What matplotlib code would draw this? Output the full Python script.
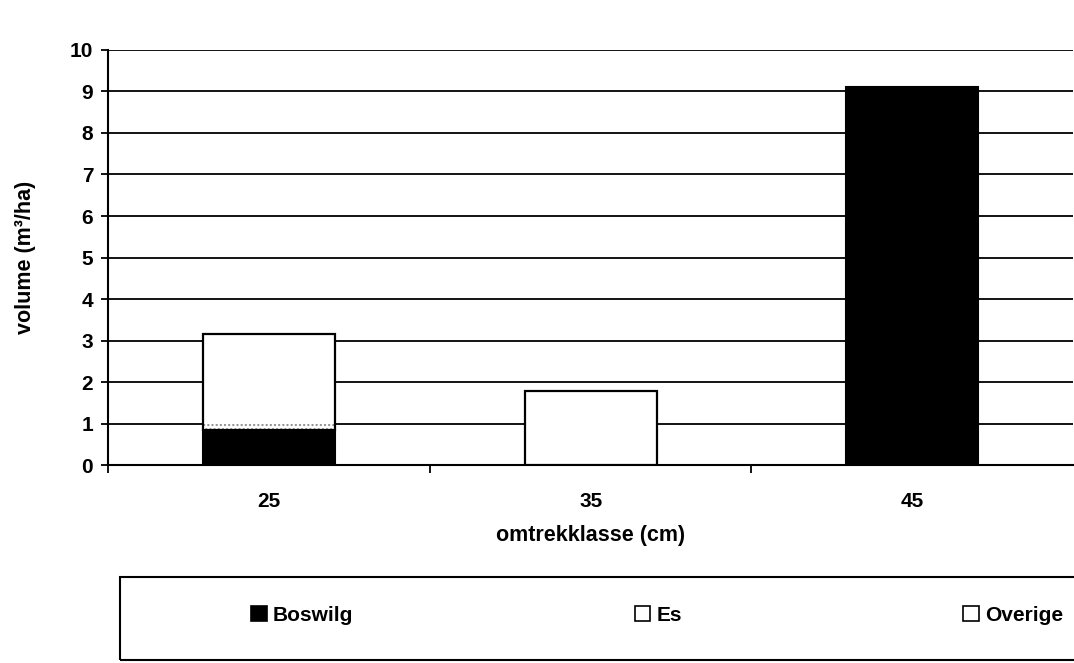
import numpy as np
import matplotlib.pyplot as plt
from matplotlib.patches import Rectangle, Patch

plt.rcParams['font.family'] = ['Liberation Sans', 'DejaVu Sans']
plt.rcParams['font.weight'] = 'bold'
plt.rcParams['hatch.linewidth'] = 1.0

# Data
# ----
klassen = ['25', '35', '45']
boswilg = [0.85, 0.0, 9.1]
es = [0.15, 1.8, 0.0]
overige = [2.15, 0.0, 0.0]

# Figure setup
# ------------
fig = plt.figure(figsize=(10.74, 6.63), dpi=100)
ax = fig.add_axes([0.101, 0.298, 0.898, 0.627])

x = np.arange(len(klassen))
w = 0.41

# Plot data
# ---------
ax.bar(x, boswilg, w, color='black', edgecolor='black', linewidth=1.5,
       zorder=3)
# Es: faint dotted band where it sits on the black part, plain white otherwise
es_hatch = ['....' if b > 0 else None for b in boswilg]
bars_es = ax.bar(x, es, w, bottom=boswilg, color='white', edgecolor='0.55',
                 linewidth=0, zorder=3)
for p, hh in zip(bars_es, es_hatch):
    p.set_hatch(hh)
bottom2 = np.array(boswilg) + np.array(es)
ax.bar(x, overige, w, bottom=bottom2, color='white', linewidth=0, zorder=3)

# outline of the white part of each stack
for xi, b, h in zip(x, boswilg, np.array(es) + np.array(overige)):
    if h > 0:
        ax.add_patch(Rectangle((xi - w / 2, b), w, h, fill=False,
                               edgecolor='black', linewidth=1.6, zorder=4))

# Axes
# ----
ax.set_xlim(-0.5, 2.5)
ax.set_ylim(0, 10)
ax.set_yticks(np.arange(0, 11, 1))
ax.set_xticks(x)
ax.set_xticklabels(klassen)
ax.set_xticks([-0.5, 0.5, 1.5], minor=True)
ax.tick_params(axis='x', which='major', length=0, pad=19, labelsize=15)
ax.tick_params(axis='x', which='minor', length=6, width=1.3, direction='out')
ax.tick_params(axis='y', length=5, width=1.3, labelsize=15, pad=6)

ax.grid(axis='y', color='black', linewidth=1.3, zorder=0)
for s in ['top', 'right']:
    ax.spines[s].set_visible(False)
ax.spines['left'].set_linewidth(1.5)
ax.spines['bottom'].set_linewidth(1.5)

ax.set_xlabel('omtrekklasse (cm)', fontsize=15.5, fontweight='bold',
              labelpad=10)
ax.set_ylabel('volume (m³/ha)', fontsize=15.5, fontweight='bold', labelpad=24)

# Legend
# ------
fig.patches.append(Rectangle((0.112, 0.005), 0.9, 0.125, fill=False,
                             edgecolor='black', linewidth=1.5,
                             transform=fig.transFigure, figure=fig))
handles = [Patch(facecolor='black', edgecolor='black', linewidth=1.2),
           Patch(facecolor='white', edgecolor='black', linewidth=1.2),
           Patch(facecolor='white', edgecolor='black', linewidth=1.2)]
fig.legend(handles, ['Boswilg', 'Es', 'Overige'], ncol=3, loc='center',
           bbox_to_anchor=(0.612, 0.072), frameon=False, fontsize=15,
           handlelength=0.75, handleheight=0.75, handletextpad=0.3,
           columnspacing=13.5)

fig.savefig('out.png', dpi=100)
